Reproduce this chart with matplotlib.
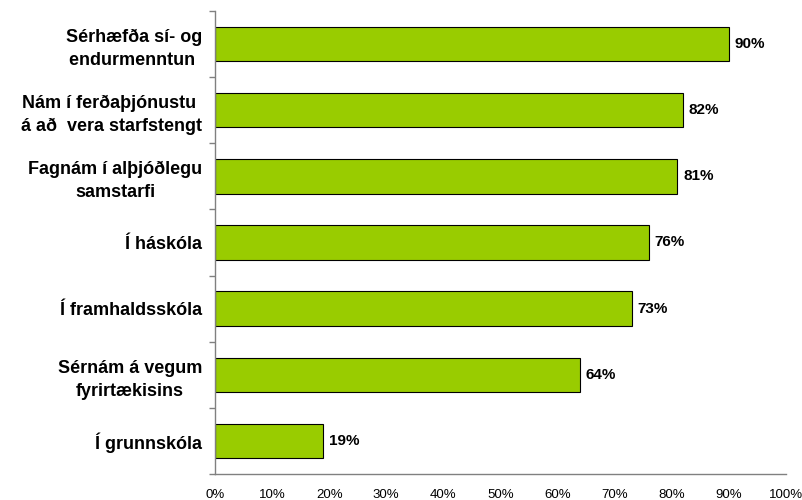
import matplotlib
matplotlib.use("Agg")
import matplotlib.pyplot as plt
import numpy as np

# categories listed top to bottom
labels = ["Sérhæfða sí- og\nendurmenntun ",
          "Nám í ferðaþjónustu \ná að  vera starfstengt",
          "Fagnám í alþjóðlegu\nsamstarfi",
          "Í háskóla",
          "Í framhaldsskóla",
          "Sérnám á vegum\nfyrirtækisins",
          "Í grunnskóla"]
values = [0.90, 0.82, 0.81, 0.76, 0.73, 0.64, 0.19]
xticks = [0, 0.1, 0.2, 0.3, 0.4, 0.5, 0.6, 0.7, 0.8, 0.9, 1.0]
xticklabels = ["0%", "10%", "20%", "30%", "40%", "50%", "60%", "70%", "80%", "90%", "100%"]

plt.rcParams["font.family"] = ["Liberation Sans", "DejaVu Sans"]

fig = plt.figure(figsize=(8.02, 5.0), dpi=100)
ax = fig.add_axes([0.268, 0.052, 0.712, 0.926])

n = len(labels)
ypos = np.arange(n)[::-1]
ax.barh(ypos, values, height=0.52, color="#99CC00", edgecolor="black", linewidth=0.8)

for y, v in zip(ypos, values):
    ax.annotate("{:.0f}%".format(v * 100), (v, y), xytext=(4, 0), textcoords="offset points",
                va="center", ha="left", fontsize=11, fontweight="bold")

ax.set_xlim(0, 1)
ax.set_ylim(-0.5, n - 0.5)
ax.set_xticks(xticks)
ax.set_xticklabels(xticklabels, fontsize=9.5)
ax.tick_params(axis="x", length=0, pad=11)

ax.set_yticks(ypos)
ax.set_yticklabels(labels, fontsize=13, fontweight="bold", multialignment="center",
                   linespacing=1.45)
ax.tick_params(axis="y", which="major", length=0, pad=9)
ax.set_yticks(np.arange(-0.5, n, 1.0), minor=True)
ax.tick_params(axis="y", which="minor", length=4, color="#808080", width=1)

for s in ["top", "right"]:
    ax.spines[s].set_visible(False)
for s in ["left", "bottom"]:
    ax.spines[s].set_color("#808080")
    ax.spines[s].set_linewidth(1)

fig.savefig("out.png", dpi=100)
